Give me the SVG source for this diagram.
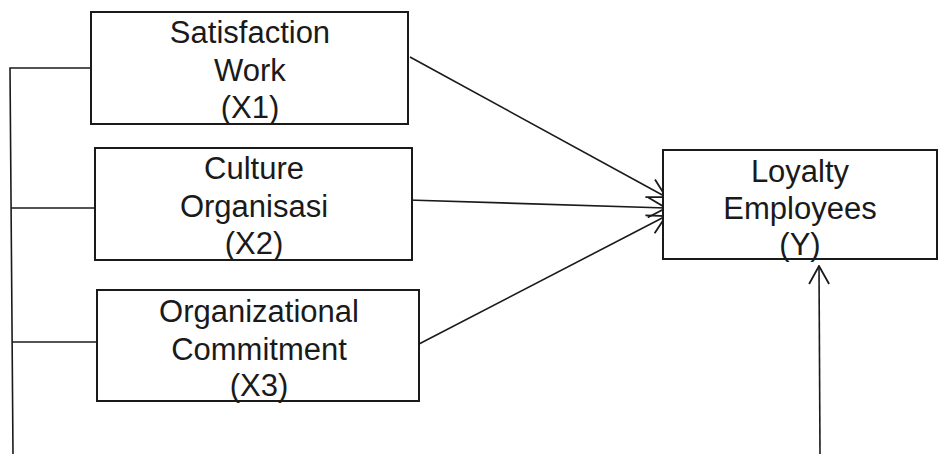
<svg xmlns="http://www.w3.org/2000/svg" width="939" height="454" viewBox="0 0 939 454">
<defs>
<style>
.box{fill:#fff;stroke:#1a1a1a;stroke-width:2}
.t{font-family:"Liberation Sans",Arial,sans-serif;font-size:31px;fill:#1a1a1a;text-anchor:middle}
.c{fill:none;stroke:#1a1a1a;stroke-width:1.6}
</style>
<marker id="ah" viewBox="0 0 20 22" refX="19" refY="11" markerWidth="20" markerHeight="22" markerUnits="userSpaceOnUse" orient="auto">
<path d="M1,1 L19,11 L1,21" fill="none" stroke="#1a1a1a" stroke-width="1.8"/>
</marker>
</defs>
<g id="connectors">
<polyline class="c" points="91,68 10,68 13,454"/>
<line class="c" x1="11" y1="208" x2="97" y2="208"/>
<line class="c" x1="12" y1="342" x2="97" y2="342"/>
<line class="c" x1="410" y1="57" x2="666" y2="197" marker-end="url(#ah)"/>
<line class="c" x1="408" y1="200" x2="666" y2="208" marker-end="url(#ah)"/>
<line class="c" x1="419" y1="344" x2="666" y2="216" marker-end="url(#ah)"/>
<line class="c" x1="820" y1="454" x2="819" y2="266" marker-end="url(#ah)"/>
</g>
<g id="x1">
<rect class="box" x="91" y="12" width="317" height="112"/>
<text class="t" x="250" y="43">Satisfaction</text>
<text class="t" x="250" y="81">Work</text>
<text class="t" x="250" y="118">(X1)</text>
</g>
<g id="x2">
<rect class="box" x="95" y="148" width="317" height="112"/>
<text class="t" x="254" y="179">Culture</text>
<text class="t" x="254" y="217">Organisasi</text>
<text class="t" x="254" y="254">(X2)</text>
</g>
<g id="x3">
<rect class="box" x="97" y="290" width="322" height="111"/>
<text class="t" x="259" y="322">Organizational</text>
<text class="t" x="259" y="360">Commitment</text>
<text class="t" x="259" y="396">(X3)</text>
</g>
<g id="y">
<rect class="box" x="663" y="150" width="274" height="109"/>
<text class="t" x="800" y="182">Loyalty</text>
<text class="t" x="800" y="219">Employees</text>
<text class="t" x="800" y="255">(Y)</text>
</g>
</svg>
